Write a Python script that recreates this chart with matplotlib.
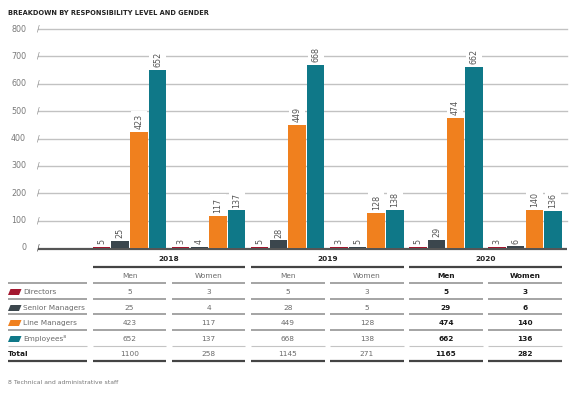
import matplotlib
matplotlib.use("Agg")
import matplotlib.pyplot as plt
from matplotlib.patches import Polygon
import matplotlib.transforms as mtransforms
import numpy as np

plt.rcParams['font.family'] = ['DejaVu Sans']

# ---- data ----
years = ['2018', '2019', '2020']
genders = ['Men', 'Women']
categories = ['Directors', 'Senior Managers', 'Line Managers', 'Employees⁸']
directors = [5, 3, 5, 3, 5, 3]
senior_managers = [25, 4, 28, 5, 29, 6]
line_managers = [423, 117, 449, 128, 474, 140]
employees = [652, 137, 668, 138, 662, 136]
totals = [1100, 258, 1145, 271, 1165, 282]
yticks = [0, 100, 200, 300, 400, 500, 600, 700, 800]

series = [directors, senior_managers, line_managers, employees]
colors = ['#A3172F', '#3B464D', '#F0801E', '#0F7888']

W, H = 580, 393
fig = plt.figure(figsize=(W / 100, H / 100), dpi=100)

# main bar axes in pixel layout
ax_l, ax_r, ax_t, ax_b = 38, 567, 29, 248
ax = fig.add_axes([ax_l / W, (H - ax_b) / H, (ax_r - ax_l) / W, (ax_b - ax_t) / H])
ax.set_xlim(-1.157, 5.53)
ax.set_ylim(0, 800)
ax.axis('off')

n_groups = len(directors)
groups = np.arange(n_groups)
pitch = 0.236
bw = 0.221
offsets = (np.arange(4) - 1.5) * pitch

# gridlines
for yv in yticks:
    if yv == 0:
        shifted = mtransforms.offset_copy(ax.get_yaxis_transform(), fig=fig, x=0, y=-0.8,
                                          units='points')
        ax.plot([0, 1], [0, 0], transform=shifted, color='#555555', lw=1.6, zorder=2.5,
                clip_on=False, solid_capstyle='butt')
    else:
        ax.axhline(yv, color='#C2C2C2', lw=1.0, zorder=1, clip_on=False)
    ax.text(0, yv, '/', transform=ax.get_yaxis_transform(), ha='center', va='center',
            fontsize=5.5, color='#888888' if yv else '#444444', zorder=5)
    ax.text(-12 / (ax_r - ax_l), yv, str(yv), transform=ax.get_yaxis_transform(),
            ha='right', va='center', fontsize=5.8, color='#7A7A7A')

for k, (vals, c) in enumerate(zip(series, colors)):
    xs = groups + offsets[k]
    ax.bar(xs, vals, width=bw, color=c, zorder=3, linewidth=0)
    for x, v in zip(xs, vals):
        # white knock-out behind the label (cuts gridlines, under bars)
        ax.annotate(str(v), (x, v), xytext=(0, 2), textcoords='offset points',
                    rotation=90, ha='center', va='bottom', fontsize=5.8, color='white',
                    bbox=dict(boxstyle='square,pad=0.45', fc='white', ec='none'), zorder=2)
        ax.annotate(str(v), (x, v), xytext=(0, 2), textcoords='offset points',
                    rotation=90, ha='center', va='bottom', fontsize=5.8, color='#555555',
                    zorder=6)

# overlay axes in pixel coordinates for title/table
ov = fig.add_axes([0, 0, 1, 1])
ov.set_xlim(0, W)
ov.set_ylim(H, 0)
ov.axis('off')
ov.set_zorder(-1)

ov.text(8, 13, 'BREAKDOWN BY RESPONSIBILITY LEVEL AND GENDER', fontsize=4.8,
        fontweight='bold', color='#222222', ha='left', va='center')

def px(xd):
    return ax.transData.transform((xd, 0))[0]

half = 0.465
col_c = [px(g) for g in groups]
col_l = [px(g - half) for g in groups]
col_r = [px(g + half) for g in groups]

y_year, y_year_line = 259, 267
y_head, y_head_line = 276, 283
row_y = [292, 308, 323, 339]
row_lines = [299, 314, 330, 346]
y_total, y_total_line = 354, 361
lab_l, lab_r = 8, 87

dark = '#444444'
mid = '#8C8C8C'
light = '#C4C4C4'
gray_txt = '#6A6A6A'
fs = 5.3

for yi, yr in enumerate(years):
    a, b = 2 * yi, 2 * yi + 1
    ov.text((col_l[a] + col_r[b]) / 2, y_year, yr, fontsize=fs, fontweight='bold',
            color='#222222', ha='center', va='center')
    ov.plot([col_l[a], col_r[b]], [y_year_line, y_year_line], color=dark, lw=1.6,
            solid_capstyle='butt')

for g in range(n_groups):
    bold = g >= 4
    kw = dict(fontsize=fs, ha='center', va='center',
              fontweight='bold' if bold else 'normal',
              color='#1A1A1A' if bold else gray_txt)
    ov.text(col_c[g], y_head, genders[g % 2], **kw)
    for r, vals in enumerate(series):
        ov.text(col_c[g], row_y[r], str(vals[g]), **kw)
    ov.text(col_c[g], y_total, str(totals[g]), **kw)
    ov.plot([col_l[g], col_r[g]], [y_head_line] * 2, color=mid, lw=1.1, solid_capstyle='butt')
    for r, yl in enumerate(row_lines):
        ov.plot([col_l[g], col_r[g]], [yl] * 2, color=light if r == 3 else mid,
                lw=0.8 if r == 3 else 1.1, solid_capstyle='butt')
    ov.plot([col_l[g], col_r[g]], [y_total_line] * 2, color=dark, lw=1.6, solid_capstyle='butt')

# row label column
ov.plot([lab_l, lab_r], [y_head_line] * 2, color=mid, lw=1.1, solid_capstyle='butt')
for r, (cat, c) in enumerate(zip(categories, colors)):
    y = row_y[r]
    ov.add_patch(Polygon([(8, y + 3), (19, y + 3), (21.5, y - 3), (10.5, y - 3)],
                         closed=True, fc=c, ec='none'))
    ov.text(23, y, cat, fontsize=fs, color=gray_txt, ha='left', va='center')
    ov.plot([lab_l, lab_r], [row_lines[r]] * 2, color=light if r == 3 else mid,
            lw=0.8 if r == 3 else 1.1, solid_capstyle='butt')
ov.text(8, y_total, 'Total', fontsize=fs, fontweight='bold', color='#1A1A1A',
        ha='left', va='center')
ov.plot([lab_l, lab_r], [y_total_line] * 2, color=dark, lw=1.6, solid_capstyle='butt')

ov.text(8, 382, '8 Technical and administrative staff', fontsize=4.4, color='#777777',
        ha='left', va='center')

fig.savefig('out.png', dpi=100, facecolor='white')
